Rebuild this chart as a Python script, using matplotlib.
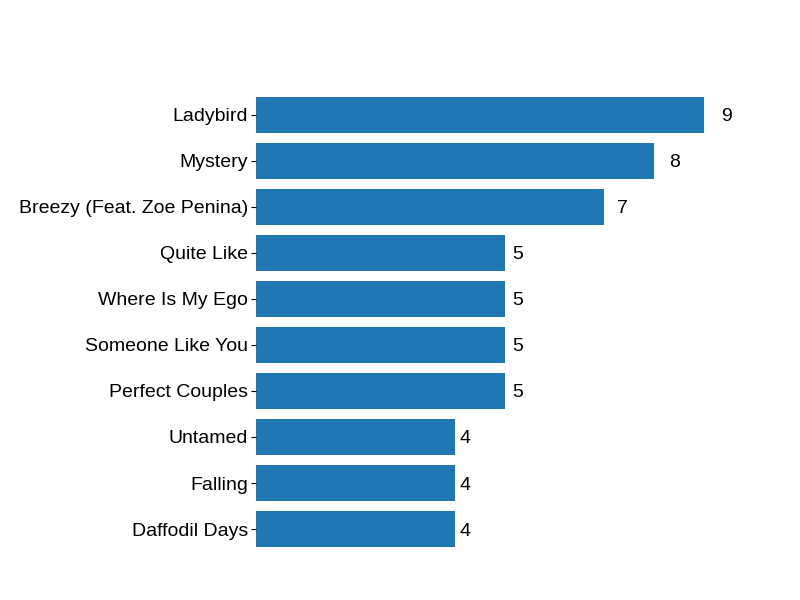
import matplotlib.pyplot as plt
import numpy as np

songs = ['Daffodil Days', 'Falling', 'Untamed', 'Perfect Couples', 'Someone Like You',
         'Where Is My Ego', 'Quite Like', 'Breezy (Feat. Zoe Penina)', 'Mystery', 'Ladybird']
counts = [4, 4, 4, 5, 5, 5, 5, 7, 8, 9]

plt.rcParams['font.family'] = ['Liberation Sans', 'DejaVu Sans']

fig = plt.figure(figsize=(8, 6), dpi=100)
ax = fig.add_axes([0.32, 0.05, 0.58, 0.827])
y = np.arange(len(songs))
ax.barh(y, counts, height=0.78, color='#1f77b4')
ax.set_yticks(y)
ax.set_yticklabels(songs, fontsize=14)
ax.tick_params(axis='y', length=3.5, pad=2)
ax.set_xlim(0, 9.33)
ax.set_ylim(-0.89, 9.89)
ax.set_xticks([])
for s in ax.spines.values():
    s.set_visible(False)

for i, v in enumerate(counts):
    ax.text(v * 1.052 - 0.11, i, str(v), va='center_baseline', ha='left', fontsize=14)

plt.savefig('out.png')
